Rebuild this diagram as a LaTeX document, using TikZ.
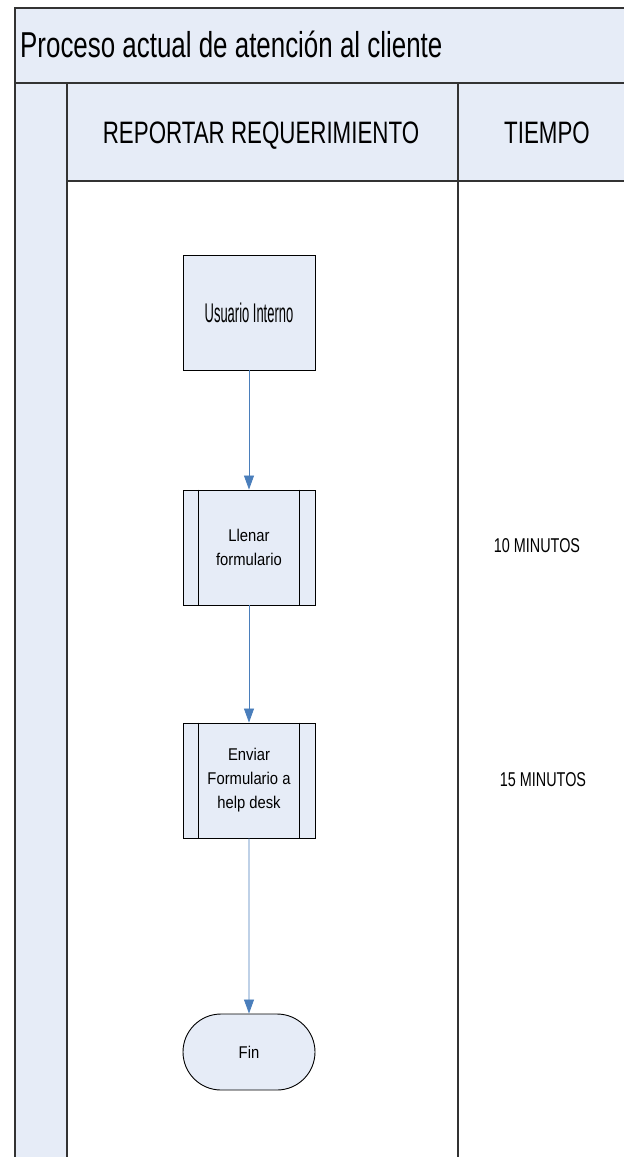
\documentclass[tikz,border=0pt]{standalone}
\usepackage{fontspec}
\setmainfont{Liberation Sans}
\newfontfamily\headfont[FakeStretch=0.72]{Liberation Sans}
\newfontfamily\boxfont[FakeStretch=0.87]{Liberation Sans}
\newfontfamily\thinfont[FakeStretch=0.48]{Liberation Sans}
\usetikzlibrary{arrows.meta,shapes.misc}
\definecolor{lanefill}{RGB}{230,236,247}
\definecolor{flowblue}{RGB}{74,126,187}

\begin{document}
\begin{tikzpicture}[x=1bp, y=-1bp,
    >={Triangle[width=10bp,length=14bp]},
    frame/.style = {
      draw = black!80,
      line width = 1.3bp
    },
    task/.style = {
      draw,
      fill = lanefill,
      rectangle,
      line width = 0.9bp,
      minimum width = 132bp,
      minimum height = 115bp,
      inner sep = 0pt,
      align = center,
      font = \boxfont\fontsize{17bp}{24bp}\selectfont
    },
    finbox/.style = {
      task,
      rounded rectangle,
      minimum height = 76bp
    },
    flow/.style = {
      ->,
      draw = flowblue,
      line width = 0.8bp
    },
    timelabel/.style = {
      font = \headfont\fontsize{20bp}{24bp}\selectfont
    }
  ]
  \useasboundingbox (0,0) rectangle (624,1157);

  % bands
  \path[fill=lanefill] (15,8) rectangle (630,83);
  \path[fill=lanefill] (15,83) rectangle (67,1160);
  \path[fill=lanefill] (67,83) rectangle (630,181);

  \draw[frame] (630,8) -- (15,8) -- (15,1160);
  \draw[frame] (15,83) -- (630,83);
  \draw[frame] (67,83) -- (67,1160);
  \draw[frame] (67,181) -- (630,181);
  \draw[frame] (458,83) -- (458,1160);

  \node[anchor=base west, inner sep=0pt, font=\headfont\fontsize{36bp}{40bp}\selectfont]
    (titulo) at (20,57) {Proceso actual de atención al cliente};
  \node[anchor=base, inner sep=0pt, font=\headfont\fontsize{31bp}{36bp}\selectfont]
    (reportar) at (261,143) {REPORTAR REQUERIMIENTO};
  \node[anchor=base, inner sep=0pt, font=\headfont\fontsize{31bp}{36bp}\selectfont]
    (tiempo) at (547,143) {TIEMPO};

  % flow
  \node[task, font=\thinfont\fontsize{27bp}{30bp}\selectfont] (usuario) at (249,312.5) {Usuario Interno};
  \node[task] (llenar) at (249,547.5) {Llenar\\formulario};
  \node[task] (enviar) at (249,780.5) {Enviar\\Formulario a\\help desk};
  \node[finbox] (fin) at (249,1052) {Fin};

  \draw ([xshift=16bp]llenar.north west) -- ([xshift=16bp]llenar.south west);
  \draw ([xshift=-16bp]llenar.north east) -- ([xshift=-16bp]llenar.south east);
  \draw ([xshift=16bp]enviar.north west) -- ([xshift=16bp]enviar.south west);
  \draw ([xshift=-16bp]enviar.north east) -- ([xshift=-16bp]enviar.south east);

  \draw[flow] (usuario) -- (llenar);
  \draw[flow] (llenar) -- (enviar);
  \draw[flow] (enviar) -- (fin);

  \node[timelabel] (t1) at (537,546) {10 MINUTOS};
  \node[timelabel] (t2) at (543,780) {15 MINUTOS};
\end{tikzpicture}
\end{document}
